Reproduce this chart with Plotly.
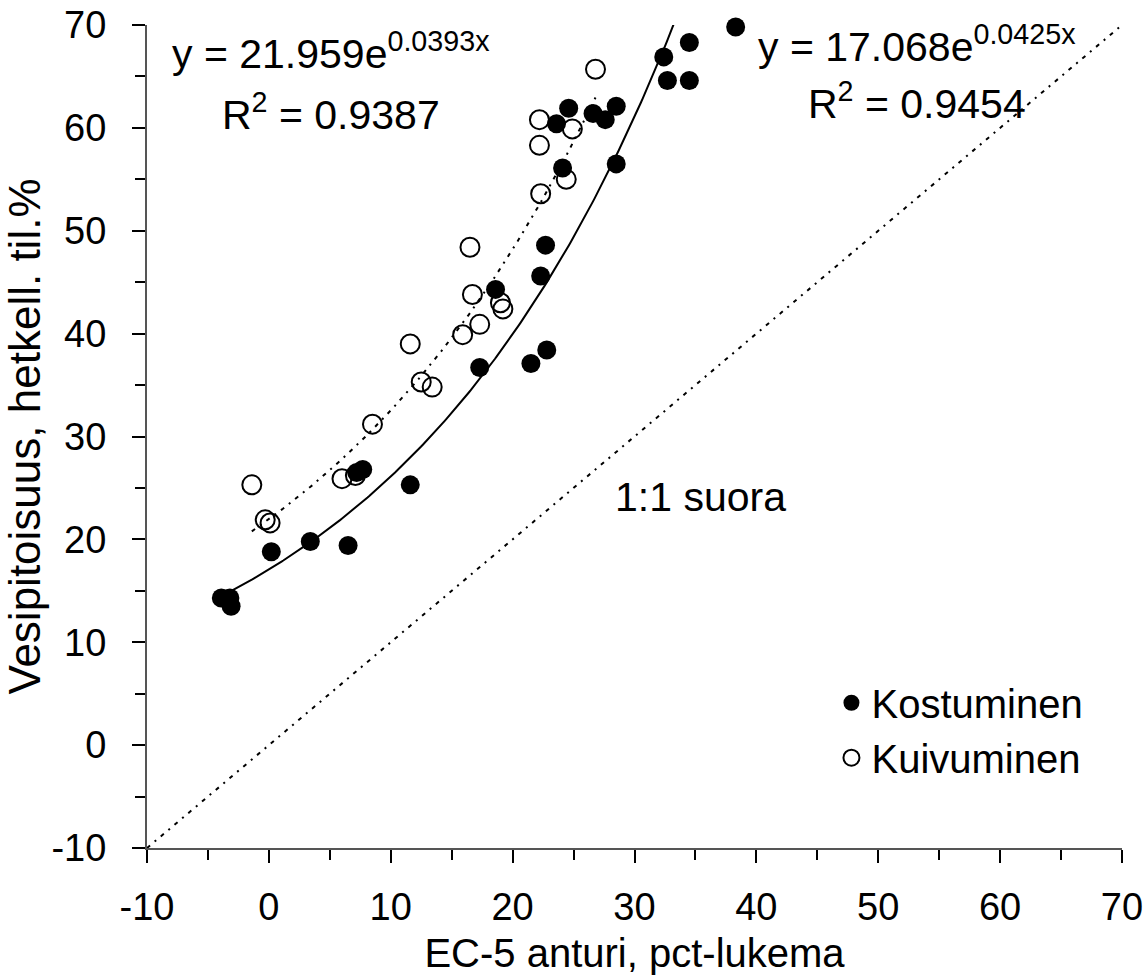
import numpy as np
import plotly.graph_objects as go

# Measured points: wetting (Kostuminen) and drying (Kuivuminen)
kost_x = [-3.9, -3.2, -3.1, 0.2, 3.4, 6.5, 7.2, 7.7, 11.6, 17.3, 18.6, 21.5, 22.8,
          22.3, 22.7, 24.1, 23.6, 24.6, 26.6, 27.6, 28.5, 28.5, 32.4, 32.7, 34.5, 34.5, 38.3]
kost_y = [14.3, 14.3, 13.5, 18.8, 19.8, 19.4, 26.5, 26.8, 25.3, 36.7, 44.3, 37.1, 38.4,
          45.6, 48.6, 56.1, 60.4, 61.9, 61.4, 60.8, 62.1, 56.5, 66.9, 64.6, 64.6, 68.3, 69.8]

kuiv_x = [-1.4, -0.3, 0.1, 6.0, 7.1, 8.5, 11.6, 12.5, 13.4, 15.9, 17.3, 19.0, 19.2,
          16.7, 16.5, 22.3, 24.4, 22.2, 24.9, 22.2, 26.8]
kuiv_y = [25.3, 21.9, 21.6, 25.9, 26.2, 31.2, 39.0, 35.3, 34.8, 39.9, 40.9, 43.0, 42.4,
          43.8, 48.4, 53.6, 55.0, 58.3, 59.9, 60.8, 65.7]

# Exponential trendlines y = a * exp(b * x)
kost_a, kost_b, kost_r2 = 17.068, 0.0425, 0.9454
kuiv_a, kuiv_b, kuiv_r2 = 21.959, 0.0393, 0.9387

axis_min, axis_max = -10, 70
tick_vals = list(range(-10, 71, 10))
tick_text = [str(v) for v in tick_vals]  # plain hyphen for negatives

FONT = "Liberation Sans, Arial, sans-serif"
DOTTED = "4px,6px,2px,6px"

fig = go.Figure()

# 1:1 reference line
fig.add_trace(go.Scatter(
    x=[axis_min, axis_max], y=[axis_min, axis_max], mode="lines",
    line=dict(color="black", width=2, dash=DOTTED),
    showlegend=False, hoverinfo="skip"))

# trendline for wetting (solid)
tx = np.linspace(min(kost_x), max(kost_x), 300)
fig.add_trace(go.Scatter(
    x=tx, y=kost_a * np.exp(kost_b * tx), mode="lines",
    line=dict(color="black", width=2), showlegend=False, hoverinfo="skip"))

# trendline for drying (dotted)
dx = np.linspace(min(kuiv_x), max(kuiv_x), 300)
fig.add_trace(go.Scatter(
    x=dx, y=kuiv_a * np.exp(kuiv_b * dx), mode="lines",
    line=dict(color="black", width=2, dash=DOTTED),
    showlegend=False, hoverinfo="skip"))

fig.add_trace(go.Scatter(
    x=kuiv_x, y=kuiv_y, mode="markers", name="Kuivuminen", legendrank=2,
    marker=dict(symbol="circle-open", size=19, color="black", line=dict(width=2)),
    cliponaxis=False))

fig.add_trace(go.Scatter(
    x=kost_x, y=kost_y, mode="markers", name="Kostuminen", legendrank=1,
    marker=dict(symbol="circle", size=19, color="black"),
    cliponaxis=False))

eq_font = dict(family=FONT, size=41, color="black")
annotations = [
    dict(x=-8.1, y=67.5, text=f"y = {kuiv_a:.3f}e<sup>{kuiv_b:.4f}x</sup>"),
    dict(x=-4.0, y=61.55, text=f"R<sup>2</sup> = {kuiv_r2:.4f}"),
    dict(x=40.0, y=68.2, text=f"y = {kost_a:.3f}e<sup>{kost_b:.4f}x</sup>"),
    dict(x=44.1, y=62.65, text=f"R<sup>2</sup> = {kost_r2:.4f}"),
    dict(x=28.2, y=24.1, text="1:1 suora"),
]
for a in annotations:
    a.update(xref="x", yref="y", showarrow=False, font=eq_font,
             xanchor="left", yanchor="middle")

axis_common = dict(
    range=[axis_min, axis_max], tickvals=tick_vals, ticktext=tick_text,
    showgrid=False, zeroline=False, showline=True, automargin=False,
    linecolor="#555555", linewidth=2,
    ticks="outside", ticklen=13, tickwidth=1.5, tickcolor="black",
    minor=dict(dtick=5, ticks="outside", ticklen=10, tickwidth=1.5, tickcolor="black"),
    tickfont=dict(family=FONT, size=38, color="black"),
)

fig.update_layout(
    width=1145, height=977,
    margin=dict(l=147, r=23, t=25, b=129),
    paper_bgcolor="white", plot_bgcolor="white",
    font=dict(family=FONT, color="black"),
    xaxis=dict(axis_common, ticklabelstandoff=11,
               title=dict(text="EC-5 anturi, pct-lukema",
                          font=dict(family=FONT, size=40), standoff=12)),
    yaxis=dict(axis_common, ticklabelstandoff=18,
               title=dict(text="Vesipitoisuus, hetkell. til.%",
                          font=dict(family=FONT, size=44), standoff=0)),
    legend=dict(x=0.702, y=0.216, xanchor="left", yanchor="top",
                font=dict(family=FONT, size=40, color="black"),
                bgcolor="rgba(0,0,0,0)", itemsizing="trace", tracegroupgap=0),
    annotations=annotations,
    showlegend=True,
)

fig.write_html("out.html")
